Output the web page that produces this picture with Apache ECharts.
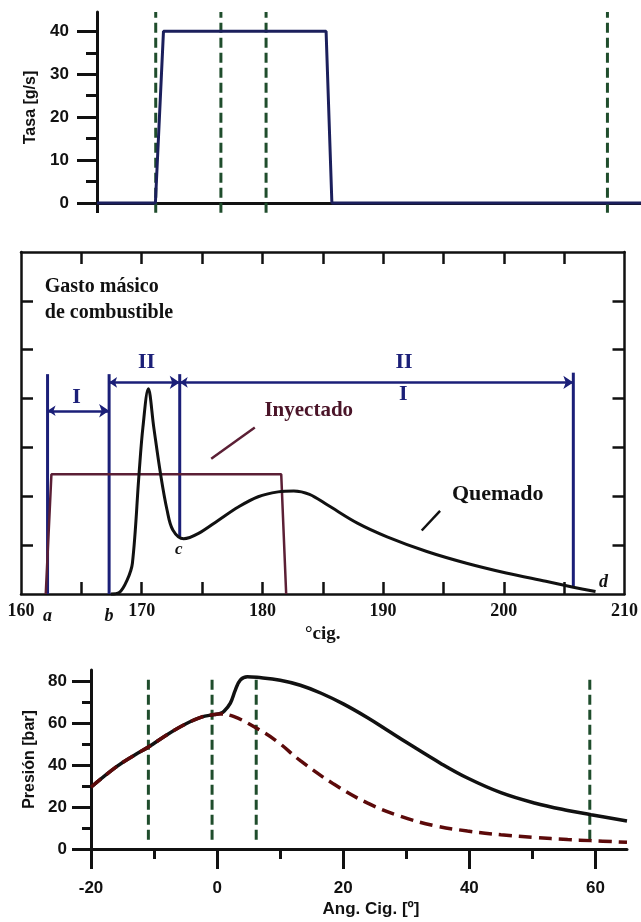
<!DOCTYPE html>
<html>
<head>
<meta charset="utf-8">
<script src="https://cdn.jsdelivr.net/npm/echarts@6/dist/echarts.min.js"></script>
<style>
  html, body { margin: 0; padding: 0; background: #fff; }
  #chart { width: 641px; height: 922px; }
</style>
</head>
<body>
<div id="chart"></div>
<script>
// ---- panel 1: tasa de inyección [g/s] vs ángulo de cigüeñal
const tasaAng = [-20, -10.95, -9.7, 15.5, 16.4, 64.3]
const tasaVal = [0, 0, 40, 40, 0, 0]
const tasaTicks = [0, 10, 20, 30, 40]
const tasaMinor = [5, 15, 25, 35]

// dashed vertical marks (same angles in panels 1 and 3)
const marcasAng = [-10.9, -0.8, 6.2, 59.1]

// ---- panel 2: gasto másico de combustible vs °cig.
const cigTicks = [160, 170, 180, 190, 200, 210]
const cigMinor = [165, 170, 175, 180, 185, 190, 195, 200, 205]
const gastoTicks = [1, 2, 3, 4, 5, 6]
const inyectadoCig = [162.05, 162.52, 181.56, 181.97]
const inyectadoVal = [0, 2.45, 2.45, 0]
const quemadoCig = [167.45, 168.14, 168.8, 169.23, 169.78, 170.1, 170.55, 171.0, 171.56, 172.1, 172.58, 173.48,
  174.71, 176.36, 178.0, 179.65, 181.3, 182.6, 183.9, 185.4, 187.87, 190.33, 193.62, 196.91, 200.2, 203.48, 205.76, 207.6]
const quemadoVal = [0, 0.03, 0.29, 0.63, 2.46, 3.41, 4.2, 3.41, 2.46, 1.72, 1.31, 1.13,
  1.24, 1.51, 1.78, 1.99, 2.09, 2.11, 2.04, 1.82, 1.45, 1.17, 0.87, 0.63, 0.43, 0.26, 0.14, 0.05]
const fases = ['a', 'b', 'c', 'd']
const fasesCig = [162.2, 167.3, 173.15, 205.76]
const fasesDesde = [0, 0, 1.17, 0.13]
const fasesHasta = [4.5, 4.5, 4.5, 4.53]

// ---- panel 3: presión [bar] vs Ang. Cig. [º]
const presTicks = [0, 20, 40, 60, 80]
const presMinor = [10, 30, 50, 70]
const angTicks = [-20, 0, 20, 40, 60]
const angMinor = [-10, 10, 30, 50]
const combAng = [-20, -16, -13, -10.9, -8, -5, -2.5, -0.5, 0.5, 1.1, 2.1, 2.9, 3.7, 4.8, 6.3, 10, 13.2, 16.5,
  20, 23.8, 27, 30.2, 35.4, 39.7, 45, 50.3, 55.6, 59.3, 65]
const combPres = [29.5, 39.2, 45, 48.7, 54.5, 59.7, 63, 64.2, 64.8, 65.8, 69.7, 76, 80.8, 82.3, 82, 80.6, 78.2, 74.4,
  69.3, 62.8, 56.7, 50.6, 41, 33.9, 26.9, 22, 18.4, 16.4, 13.4]
const motAng = [-20, -16, -13, -10.9, -8, -5, -2.5, -0.5, 0.3, 2.6, 5.8, 9.5, 13.2, 18.5, 23.8, 29.1, 34.4,
  39.7, 45, 50.3, 55.6, 59.3, 65]
const motPres = [29.5, 39.2, 45, 48.7, 54.5, 59.7, 63, 64.2, 64.5, 63.3, 58.5, 51.4, 42.2, 31, 22, 15.6, 11.2,
  8.6, 6.8, 5.5, 4.5, 4.0, 3.2]

const SANS = 'Liberation Sans'
const SERIF = 'Liberation Serif'
const INK = '#111'
const NAVY = '#1b1f78'
const GREEN = '#1f4d2c'
const MAROON = '#5b1f35'

const zip = (xs, ys) => xs.map((x, i) => [x, ys[i]])

const chart = echarts.init(document.getElementById('chart'))

// axis with hand-picked tick positions
const eje = (o) => ({
  type: 'value',
  gridIndex: o.grid,
  position: o.position,
  min: o.min,
  max: o.max,
  splitLine: { show: false },
  axisLine: { show: o.line !== false, onZero: false, lineStyle: { color: INK, width: o.lw || 3 } },
  axisTick: { show: true, inside: !!o.inside, customValues: o.ticks, length: o.len, lineStyle: { color: INK, width: o.lw || 3 } },
  axisLabel: o.labels
    ? { show: true, customValues: o.labels, margin: o.margin, color: INK, fontFamily: o.font, fontWeight: 'bold', fontSize: o.size }
    : { show: false },
  name: o.name,
  nameLocation: 'middle',
  nameGap: o.nameGap,
  nameRotate: o.nameRotate,
  nameTextStyle: { color: INK, fontFamily: o.font, fontWeight: 'bold', fontSize: o.nameSize || o.size, padding: o.namePad || 0 }
})

const dashedMarks = (xi, yi, lo, hi) => marcasAng.map(x => ({
  type: 'line', xAxisIndex: xi, yAxisIndex: yi, clip: false, symbol: 'none', silent: true, z: 1,
  lineStyle: { color: GREEN, width: 3, type: [10, 5] },
  data: [[x, lo], [x, hi]]
}))

const seg = (xi, yi, pts, color, width, extra) => Object.assign({
  type: 'line', xAxisIndex: xi, yAxisIndex: yi, symbol: 'none', silent: true, clip: false,
  lineStyle: { color, width }, data: pts
}, extra || {})

const notas = [
  { t: 'Gasto másico\nde combustible', at: [161.97, 6.02], align: 'left', color: INK, size: 20 },
  { t: 'II', at: [170.4, 4.75], color: NAVY, size: 22 },
  { t: 'I', at: [164.6, 4.02], color: NAVY, size: 22 },
  { t: 'II', at: [191.73, 4.75], color: NAVY, size: 22 },
  { t: 'I', at: [191.68, 4.09], color: NAVY, size: 22 },
  { t: 'Inyectado', at: [183.84, 3.75], color: '#4a1428', size: 21 },
  { t: 'Quemado', at: [199.5, 2.04], color: INK, size: 22 },
  { t: 'a', at: [162.2, -0.46], color: INK, size: 18, italic: true },
  { t: 'b', at: [167.3, -0.46], color: INK, size: 18, italic: true },
  { t: 'c', at: [173.07, 0.9], color: INK, size: 17, italic: true },
  { t: 'd', at: [208.25, 0.23], color: INK, size: 18, italic: true }
]

const option = {
  animation: false,
  backgroundColor: '#fff',
  grid: [
    { left: 97, top: 12, width: 544, height: 191 },
    { left: 21, top: 252, width: 608, height: 342 },
    { left: 91, top: 670, width: 536, height: 179 }
  ],
  xAxis: [
    eje({ grid: 0, position: 'bottom', min: -20, max: 64.3, ticks: [-20], len: 10 }),
    eje({ grid: 1, position: 'bottom', min: 160, max: 210, ticks: cigMinor, len: 12, inside: true, lw: 2.5,
      labels: cigTicks, margin: 8, font: SERIF, size: 18, name: '°cig.', nameGap: 31, nameSize: 19 }),
    eje({ grid: 1, position: 'top', min: 160, max: 210, ticks: cigMinor, len: 12, inside: true, lw: 2.5 }),
    eje({ grid: 2, position: 'bottom', min: -20, max: 65, ticks: angTicks, len: 20,
      labels: angTicks, margin: 31, font: SANS, size: 17, name: 'Ang. Cig. [º]', nameGap: 52, namePad: [0, 0, 0, 24] }),
    eje({ grid: 2, position: 'bottom', min: -20, max: 65, ticks: angMinor, len: 10, line: false })
  ],
  yAxis: [
    eje({ grid: 0, position: 'left', min: 0, max: 44.5, ticks: tasaTicks, len: 20,
      labels: tasaTicks, margin: 28, font: SANS, size: 17, name: 'Tasa [g/s]', nameGap: 58, nameRotate: 90, nameSize: 16 }),
    eje({ grid: 0, position: 'left', min: 0, max: 44.5, ticks: tasaMinor, len: 11, line: false }),
    eje({ grid: 1, position: 'left', min: 0, max: 7, ticks: gastoTicks, len: 12, inside: true, lw: 2.5 }),
    eje({ grid: 1, position: 'right', min: 0, max: 7, ticks: gastoTicks, len: 12, inside: true, lw: 2.5 }),
    eje({ grid: 2, position: 'left', min: 0, max: 85.5, ticks: presTicks, len: 19,
      labels: presTicks, margin: 24, font: SANS, size: 17, name: 'Presión [bar]', nameGap: 52, nameRotate: 90, nameSize: 16 }),
    eje({ grid: 2, position: 'left', min: 0, max: 85.5, ticks: presMinor, len: 9, line: false })
  ],
  series: [
    // panel 1
    ...dashedMarks(0, 0, -2.3, 44.5),
    seg(0, 0, zip(tasaAng, tasaVal), '#1b1f5c', 3, { z: 3 }),

    // panel 2
    ...fases.map((f, i) => seg(1, 2, [[fasesCig[i], fasesDesde[i]], [fasesCig[i], fasesHasta[i]]], NAVY, 3, { z: 2 })),
    {
      type: 'lines', coordinateSystem: 'cartesian2d', xAxisIndex: 1, yAxisIndex: 2, silent: true, z: 3,
      symbol: ['arrow', 'arrow'], symbolSize: [8, 10],
      lineStyle: { color: NAVY, width: 2.5, opacity: 1 },
      data: [
        { coords: [[fasesCig[0], 3.75], [fasesCig[1], 3.75]] },
        { coords: [[fasesCig[1], 4.33], [fasesCig[2], 4.33]] },
        { coords: [[fasesCig[2], 4.33], [fasesCig[3], 4.33]] }
      ]
    },
    seg(1, 2, zip(inyectadoCig, inyectadoVal), MAROON, 2.5, { z: 2 }),
    seg(1, 2, zip(quemadoCig, quemadoVal), INK, 3, { z: 4, smooth: 0.35 }),
    seg(1, 2, [[175.76, 2.77], [179.37, 3.41]], MAROON, 2.5),
    seg(1, 2, [[193.2, 1.3], [194.72, 1.7]], INK, 2.5),
    {
      type: 'scatter', xAxisIndex: 1, yAxisIndex: 2, clip: false, silent: true, z: 6,
      symbolSize: 1, itemStyle: { color: 'rgba(0,0,0,0)', opacity: 1 },
      data: notas.map(n => ({
        value: n.at,
        label: {
          show: true, position: 'inside', formatter: n.t, opacity: 1,
          align: n.align || 'center', verticalAlign: 'middle',
          color: n.color, textBorderWidth: 0, textBorderColor: 'transparent',
          fontFamily: SERIF, fontWeight: 'bold', fontSize: n.size,
          fontStyle: n.italic ? 'italic' : 'normal', lineHeight: 26
        }
      }))
    },

    // panel 3
    ...dashedMarks(3, 4, 4.4, 82.4),
    seg(3, 4, zip(combAng, combPres), INK, 3.5, { smooth: 0.4, z: 3 }),
    seg(3, 4, zip(motAng, motPres), '#5c0a0a', 3.5, { smooth: 0.4, z: 4, lineStyle: { color: '#5c0a0a', width: 3.5, type: [13, 7] } })
  ]
}

chart.setOption(option)
window.addEventListener('resize', () => chart.resize())
</script>
</body>
</html>
